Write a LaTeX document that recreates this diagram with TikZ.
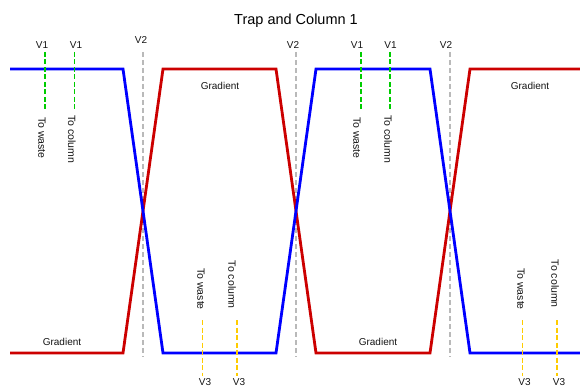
\documentclass[tikz,border=0pt]{standalone}
\usepackage{fontspec}
\setmainfont{Liberation Sans}
\begin{document}
\begin{tikzpicture}[x=1pt,y=-1pt,
  bluepath/.style={draw={rgb,255:red,0;green,0;blue,255},line width=2.8pt,line join=miter},
  redpath/.style={draw={rgb,255:red,204;green,0;blue,0},line width=2.8pt,line join=miter},
  vone/.style={draw={rgb,255:red,0;green,204;blue,0},line width=1.8pt,dash pattern=on 5pt off 2.5pt},
  vtwo/.style={draw={rgb,255:red,185;green,185;blue,185},line width=1.8pt,dash pattern=on 5pt off 3pt},
  vthree/.style={draw={rgb,255:red,255;green,204;blue,0},line width=1.8pt,dash pattern=on 5pt off 2.5pt},
  lbl/.style={font=\fontsize{10}{12}\selectfont,text={rgb,255:red,20;green,20;blue,20},inner sep=0pt},
  rotlbl/.style={font=\fontsize{10.5}{12}\selectfont,text={rgb,255:red,20;green,20;blue,20},inner sep=0pt,rotate=-90}
]
\useasboundingbox (0,0) rectangle (580,390);
\node[font=\fontsize{14.5}{17}\selectfont,inner sep=0pt] (title) at (296,21) {Trap and Column 1};

% V2 gray lines
\foreach \x/\n in {143/a,296/b,450/c}{
  \coordinate (v2t\n) at (\x,52);
  \coordinate (v2b\n) at (\x,357);
  \draw[vtwo] (v2t\n) -- (v2b\n);
}
\node[lbl] (v2la) at (141,40) {V2};
\node[lbl] (v2lb) at (293,45) {V2};
\node[lbl] (v2lc) at (446,45) {V2};

% main paths
\coordinate (b1) at (10,69);
\coordinate (b2) at (123,69);
\coordinate (b3) at (163,353);
\coordinate (b4) at (276,353);
\coordinate (b5) at (316,69);
\coordinate (b6) at (430,69);
\coordinate (b7) at (470,353);
\coordinate (b8) at (580,353);
\coordinate (r1) at (10,353);
\coordinate (r2) at (123,353);
\coordinate (r3) at (163,69);
\coordinate (r4) at (276,69);
\coordinate (r5) at (316,353);
\coordinate (r6) at (430,353);
\coordinate (r7) at (470,69);
\coordinate (r8) at (580,69);
\draw[redpath] (r1) -- (r2) -- (r3) -- (r4) -- (r5) -- (r6) -- (r7) -- (r8);
\draw[bluepath] (b1) -- (b2) -- (b3) -- (b4) -- (b5) -- (b6) -- (b7) -- (b8);

% V1 green lines
\foreach \x/\n in {45/a,74.5/b,361/c,390/d}{
  \coordinate (v1t\n) at (\x,52);
  \coordinate (v1b\n) at (\x,109);
  \draw[vone] (v1t\n) -- (v1b\n);
}
\node[lbl] (v1la) at (42,45) {V1};
\node[lbl] (v1lb) at (76,45) {V1};
\node[lbl] (v1lc) at (357,45) {V1};
\node[lbl] (v1ld) at (390.5,45) {V1};

% V3 yellow lines
\foreach \x/\n in {202.5/a,237/b,522.5/c,557/d}{
  \coordinate (v3t\n) at (\x,320);
  \coordinate (v3b\n) at (\x,376);
  \draw[vthree] (v3t\n) -- (v3b\n);
}
\node[lbl] (v3la) at (205,382) {V3};
\node[lbl] (v3lb) at (239,382) {V3};
\node[lbl] (v3lc) at (524.5,382) {V3};
\node[lbl] (v3ld) at (559,382) {V3};

% rotated labels
\node[rotlbl,anchor=west] (tw1) at (42,117) {To waste};
\node[rotlbl,anchor=west] (tc1) at (72,115) {To column};
\node[rotlbl,anchor=west] (tw2) at (357,117) {To waste};
\node[rotlbl,anchor=west] (tc2) at (388,115) {To column};
\node[rotlbl,anchor=east] (tw3) at (201,310) {To waste};
\node[rotlbl,anchor=east] (tc3) at (232,309) {To column};
\node[rotlbl,anchor=east] (tw4) at (521,310) {To waste};
\node[rotlbl,anchor=east] (tc4) at (555,308) {To column};

% Gradient labels
\node[lbl] (g1) at (220,86) {Gradient};
\node[lbl] (g2) at (530,86) {Gradient};
\node[lbl] (g3) at (62,342) {Gradient};
\node[lbl] (g4) at (378,342) {Gradient};
\end{tikzpicture}
\end{document}
